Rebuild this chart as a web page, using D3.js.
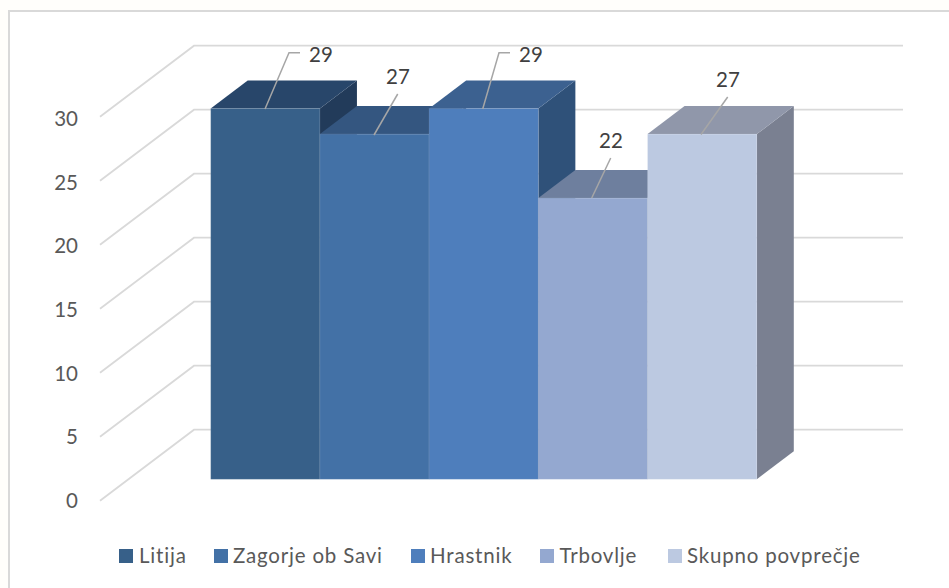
<!DOCTYPE html>
<html><head><meta charset="utf-8">
<script src="https://cdn.jsdelivr.net/npm/d3@7"></script>
<style>html,body{margin:0;padding:0;background:#fffefb;overflow:hidden}svg{display:block}text{font-family:Lato,"Noto Sans",sans-serif}</style>
</head><body><svg id="c" width="949" height="588"></svg>
<script>
const categories=["Litija","Zagorje ob Savi","Hrastnik","Trbovlje","Skupno povprečje"];
const values=[29,27,29,22,27];
const tickLabels=[0,5,10,15,20,25,30];
const frontColors=["#376089","#4371a6","#4e7ebc","#94a8d0","#bcc9e1"];
const topColors=["#28466a","#345680","#3c6190","#6e7f9e","#9097aa"];
const sideColors=["#223b5a","#223b5a","#2f5179","#2f5179","#7a8091"];
const legendX=[119,214,411,540,668];
const legendTextX=[139,233,430,559.5,687];
const svg=d3.select("#c");
svg.append("rect").attr("x",9).attr("y",11).attr("width",960).attr("height",600).attr("fill","#fff").attr("stroke","#d9d9d9").attr("stroke-width",2);
const y=d3.scaleLinear().domain([0,30]).range([429.7,45.7]);
const labelY=d3.scaleLinear().domain([0,30]).range([508,126]);
const x=d3.scaleBand().domain(categories).range([210.7,756.8]).padding(0);
const dx=37,dy=-28,gdx=94,gdy=-71,baseDrop=49.6;
const grid=svg.append("g");
tickLabels.forEach(t=>{
  const yy=y(t);
  grid.append("path").attr("fill","none").attr("stroke","#d9d9d9").attr("stroke-width",1.8)
    .attr("d",d3.line()([[100,yy-gdy],[100+gdx,yy],[903,yy]]));
  svg.append("text").attr("x",78).attr("y",labelY(t)).attr("text-anchor","end").attr("font-size",20.5).attr("fill","#595959").text(t);
});
const fy=v=>y(v)+baseDrop;
const bars=svg.append("g");
categories.forEach((c,i)=>{
  const v=values[i],x0=x(c),x1=x0+x.bandwidth(),t=fy(v)+0.4,b=fy(0);
  const line=d3.line();
  bars.append("path").attr("fill",sideColors[i]).attr("d",line([[x1,t],[x1+dx,t+dy],[x1+dx,b+dy],[x1,b]])+"Z");
  bars.append("path").attr("fill",topColors[i]).attr("d",line([[x0,t],[x0+dx,t+dy],[x1+dx,t+dy],[x1,t]])+"Z");
  bars.append("rect").attr("x",x0).attr("y",t).attr("width",x1-x0).attr("height",b-t).attr("fill",frontColors[i]).attr("stroke","#fff").attr("stroke-opacity",0.1).attr("stroke-width",1);
});
const leaders=[[[265,109],[289,52.7],[300,52.7]],[[374,135],[397.7,94]],[[482.7,109],[499,52.7],[510,52.7]],[[591.7,198],[610.7,158]],[[701,134.5],[727.7,97]]];
const labelPos=[[321,62],[398,84],[531,62],[611,148],[728,87]];
const lg=svg.append("g");
categories.forEach((c,i)=>{
  lg.append("path").attr("fill","none").attr("stroke","#a6a6a6").attr("stroke-width",1.5).attr("d",d3.line()(leaders[i]));
  lg.append("text").attr("x",labelPos[i][0]).attr("y",labelPos[i][1]).attr("text-anchor","middle").attr("font-size",20.5).attr("fill","#404040").text(values[i]);
  lg.append("rect").attr("x",legendX[i]).attr("y",549).attr("width",14).attr("height",14).attr("fill",frontColors[i]);
  lg.append("text").attr("x",legendTextX[i]).attr("y",563).attr("font-size",20.5).attr("letter-spacing",0.8).attr("fill","#595959").text(c);
});
</script></body></html>
